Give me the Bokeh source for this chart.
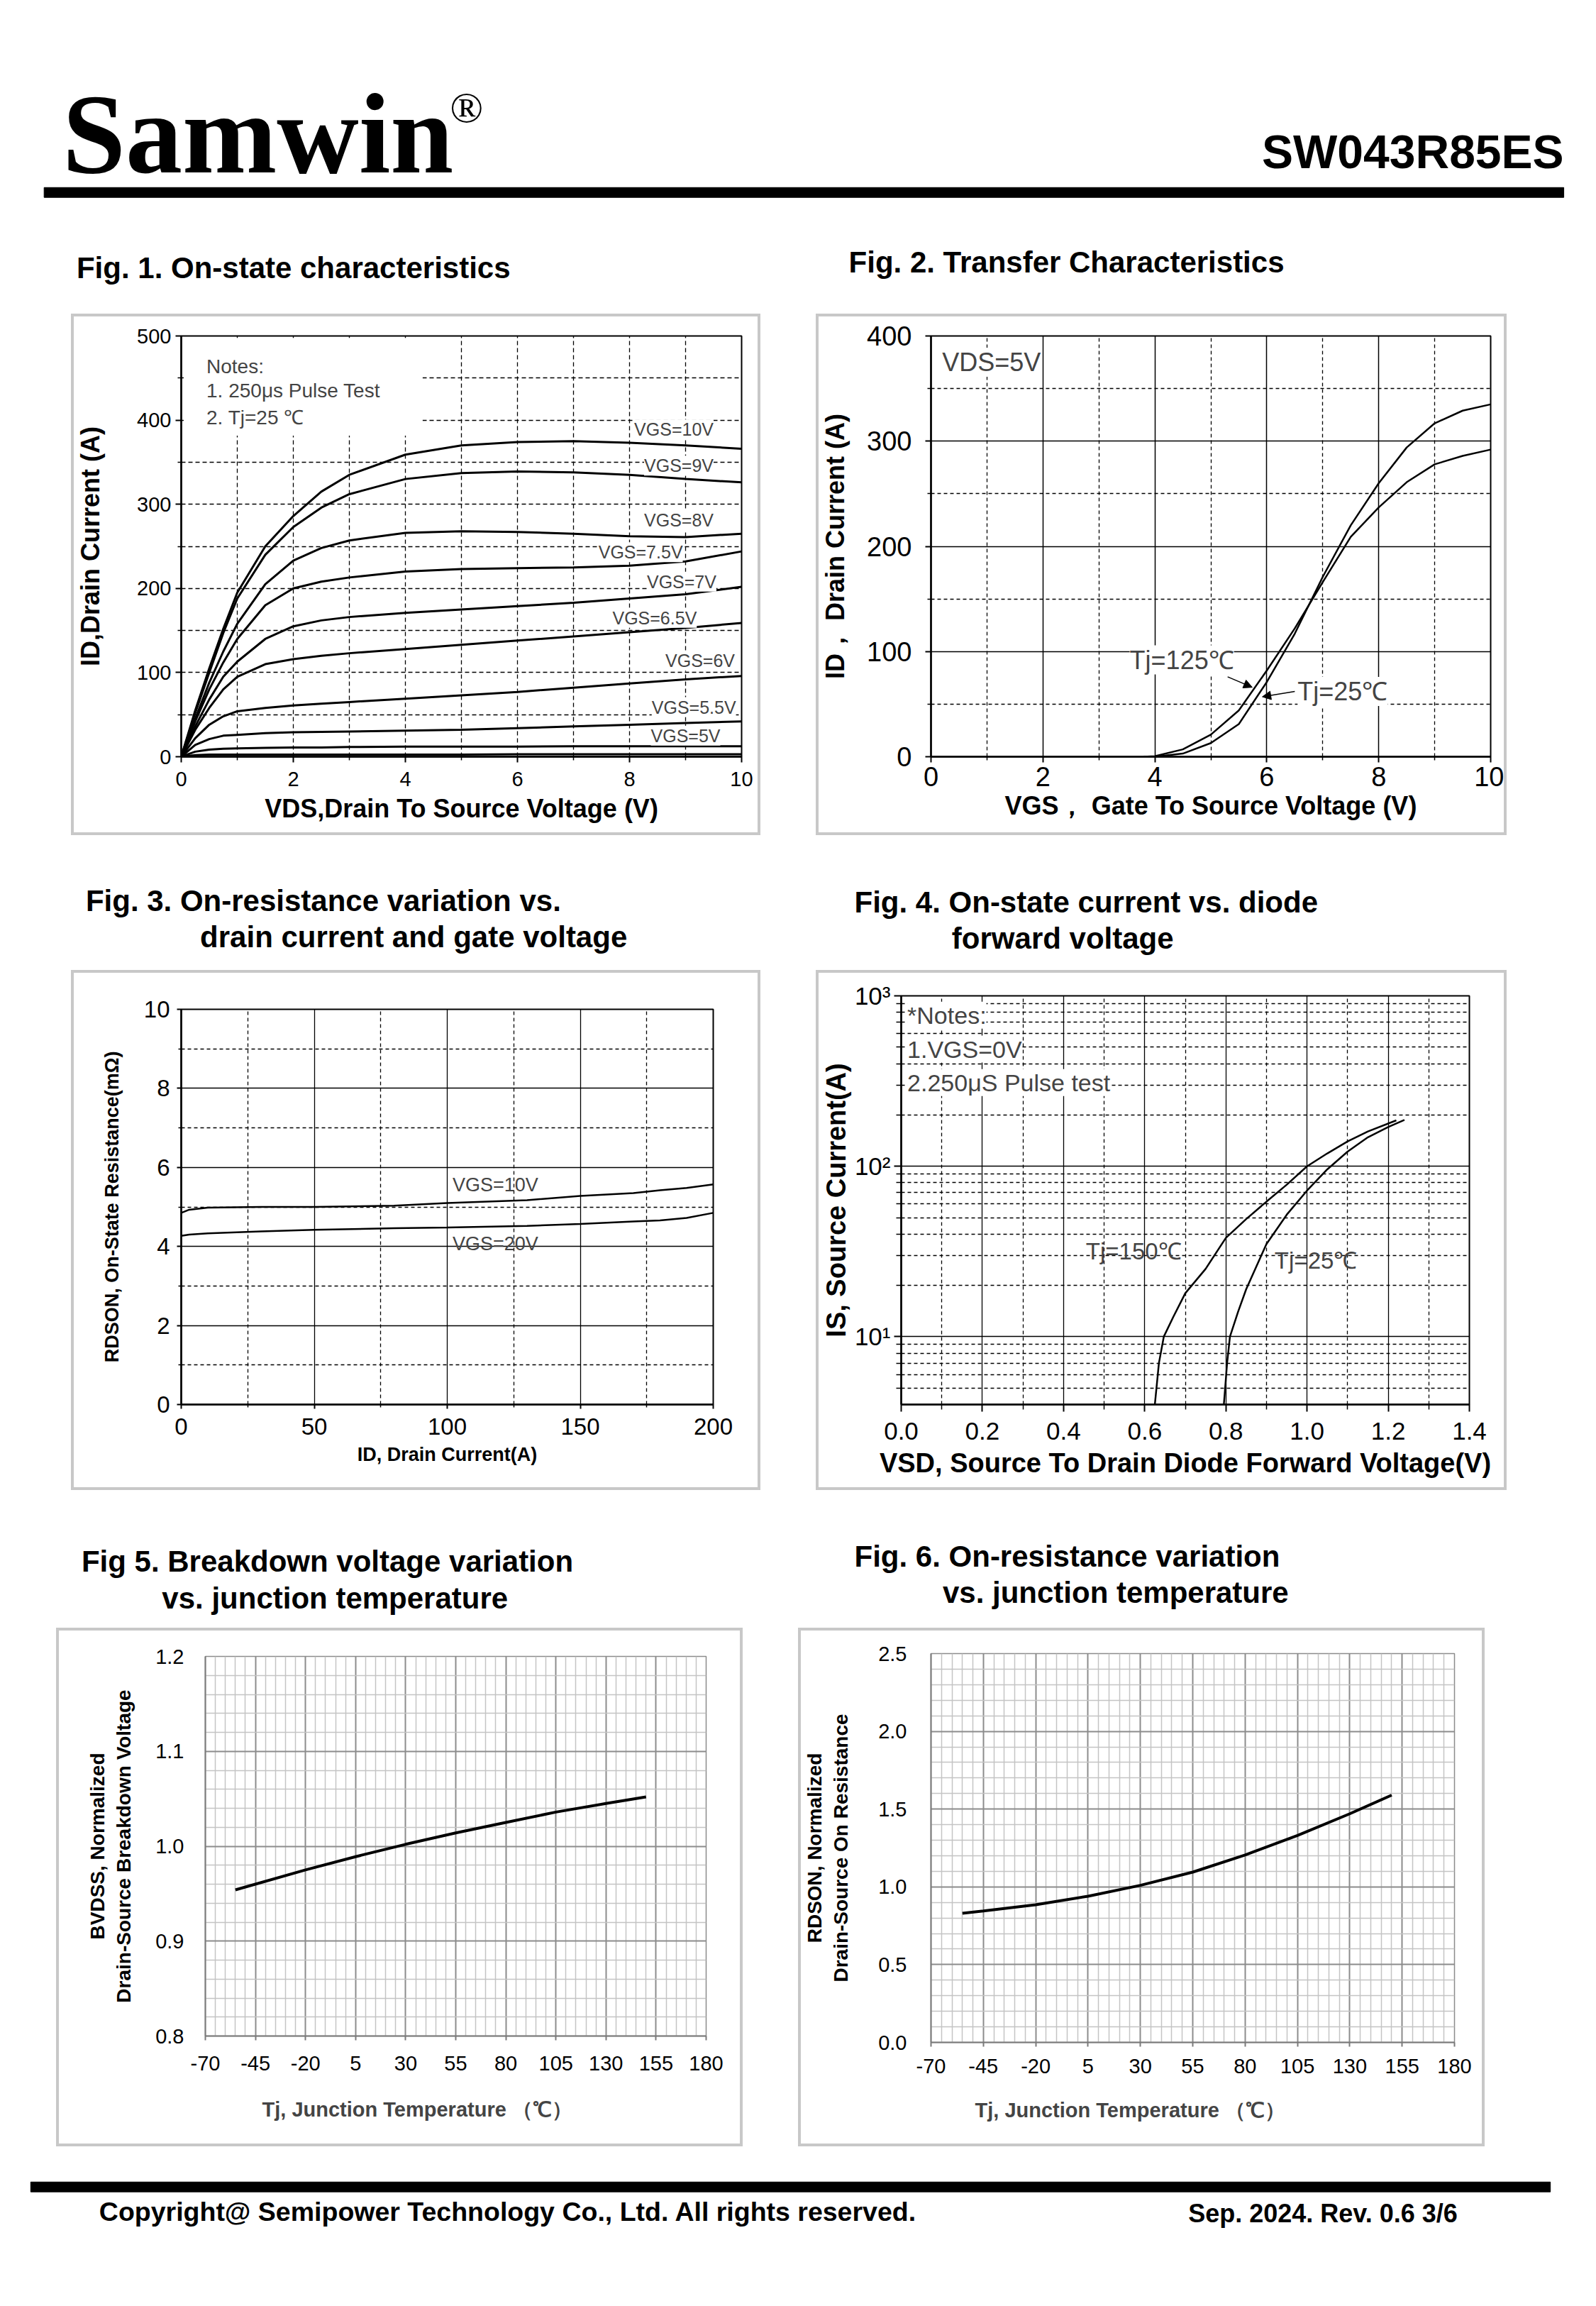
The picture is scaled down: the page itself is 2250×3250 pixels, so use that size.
from bokeh.plotting import figure
from bokeh.layouts import column, row
from bokeh.models import (Range1d, FixedTicker, NumeralTickFormatter, Label, Arrow,
                          NormalHead, Spacer, Title)
from bokeh.core.properties import value
from bokeh.embed import file_html
from bokeh.resources import INLINE

# ---------------- data ----------------
# Fig 1 output characteristics
vds = [0, 0.25, 0.5, 0.75, 1, 1.5, 2, 2.5, 3, 4, 5, 6, 7, 8, 9, 10]
id_10 = [0, 55, 105, 152, 195, 250, 286, 315, 335, 359, 370, 374, 375, 373, 370, 366]
id_9 = [0, 52, 100, 147, 188, 240, 273, 296, 312, 330, 337, 339, 338, 335, 330, 326]
id_8 = [0, 45, 88, 125, 158, 205, 233, 248, 257, 266, 268, 267, 265, 262, 261, 265]
id_75 = [0, 42, 80, 112, 140, 180, 200, 208, 213, 220, 223, 224, 225, 227, 232, 244]
id_7 = [0, 36, 68, 95, 113, 140, 155, 162, 166, 171, 175, 179, 183, 188, 193, 202]
id_65 = [0, 32, 58, 80, 95, 110, 116, 120, 123, 128, 133, 138, 143, 148, 153, 159]
id_6 = [0, 22, 38, 48, 54, 58, 61, 63, 65, 69, 73, 77, 82, 87, 92, 96]
id_55 = [0, 14, 21, 25, 26, 28, 29, 29.5, 30, 31, 32, 34, 36, 38, 40, 42]
id_5 = [0, 6, 8.5, 9.5, 10, 10.5, 11, 11, 11.5, 12, 12, 12, 12.5, 12.5, 12.5, 12.5]
id_45 = [0, 2, 2.5, 2.5, 2.5, 2.5, 2.5, 2.5, 2.5, 2.5, 2.5, 3, 3, 3, 3, 3]
fig1_curves = [id_10, id_9, id_8, id_75, id_7, id_65, id_6, id_55, id_5, id_45]
fig1_labels = ["VGS=10V", "VGS=9V", "VGS=8V", "VGS=7.5V", "VGS=7V", "VGS=6.5V",
               "VGS=6V", "VGS=5.5V", "VGS=5V"]
fig1_label_x = [9.5, 9.5, 9.5, 8.95, 9.55, 9.2, 9.88, 9.9, 9.62]
fig1_label_y = [389, 346, 281, 243, 208, 165, 114, 59, 25]
fig1_notes = ["Notes:", " 1. 250μs  Pulse Test", " 2. Tj=25 ℃"]
fig1_notes_y = [464, 435, 403]

# Fig 2 transfer characteristics
vgs = [3.8, 4.0, 4.5, 5.0, 5.5, 6.0, 6.5, 7.0, 7.5, 8.0, 8.5, 9.0, 9.5, 10.0]
id_t125 = [0, 0.5, 7, 21, 44, 82, 122, 166, 209, 237, 261, 278, 286, 292]
id_t25 = [0, 0, 3, 13, 31, 71, 117, 171, 220, 260, 294, 317, 329, 335]

# Fig 3 on-resistance vs drain current
id3 = [0, 3, 10, 30, 50, 80, 100, 130, 150, 170, 180, 190, 200]
r_10v = [4.85, 4.93, 4.98, 5.0, 5.0, 5.03, 5.1, 5.17, 5.28, 5.35, 5.42, 5.48, 5.57]
r_20v = [4.27, 4.3, 4.33, 4.38, 4.42, 4.46, 4.48, 4.52, 4.57, 4.63, 4.66, 4.72, 4.85]

# Fig 4 diode forward characteristics
vsd_150 = [0.625, 0.635, 0.647, 0.67, 0.70, 0.75, 0.80, 0.85, 0.90, 0.95, 1.00, 1.05, 1.10, 1.15, 1.22]
is_150 = [4, 7, 10, 13, 18, 25, 38, 49, 62, 78, 100, 119, 140, 160, 186]
vsd_25 = [0.795, 0.803, 0.81, 0.83, 0.85, 0.90, 0.95, 1.00, 1.05, 1.10, 1.15, 1.20, 1.24]
is_25 = [4, 7, 10, 14, 19, 35, 52, 72, 96, 122, 148, 170, 187]

# Fig 5 breakdown voltage vs Tj
tj5 = [-55, -20, 5, 30, 55, 80, 105, 130, 150]
bv_norm = [0.954, 0.975, 0.989, 1.002, 1.014, 1.025, 1.036, 1.045, 1.052]

# Fig 6 on-resistance vs Tj
tj6 = [-55, -45, -20, 5, 30, 55, 80, 105, 130, 150]
rds_norm = [0.83, 0.845, 0.885, 0.94, 1.01, 1.095, 1.205, 1.33, 1.47, 1.59]

# ---------------- helpers ----------------
SANS = "Liberation Sans"
BORDER = 4
BOX = "%dpx solid #c8c8c8" % BORDER
PAGE_W = 2234
S = 0.995


def s(v):
    return int(round(v * S))


def page_fig(y0, y1):
    p = figure(width=s(PAGE_W), height=s(y1) - s(y0), x_range=Range1d(0, PAGE_W),
               y_range=Range1d(y1, y0), output_backend="svg", toolbar_location=None, min_border=0)
    p.axis.visible = False
    p.grid.visible = False
    p.outline_line_color = None
    return p


def ptext(p, x, y, t, size, style="bold", font=SANS, align="left", baseline="middle"):
    p.text(x=[x], y=[y], text=[t], text_font=value(font), text_font_size=size,
           text_font_style=style, text_align=align, text_baseline=baseline, text_color="black")


def chart(box, frame, xr, yr, ytype="linear"):
    bx0, bx1, by0, by1 = box
    fx0, fx1, fy0, fy1 = frame
    p = figure(width=s(bx1) - s(bx0), height=s(by1) - s(by0),
               x_range=Range1d(*xr), y_range=Range1d(*yr), y_axis_type=ytype,
               output_backend="svg", toolbar_location=None,
               min_border_left=s(fx0) - s(bx0) - BORDER,
               min_border_right=s(bx1) - s(fx1) + BORDER,
               min_border_top=s(fy0) - s(by0) - BORDER,
               min_border_bottom=s(by1) - s(fy1) + BORDER,
               styles={"border": BOX})
    p.background_fill_color = "white"
    p.border_fill_color = "white"
    return p


def style_axes(p, tick_font, lab_font, lab_style="bold", axis_w=2.5, color="black",
               xs=(8, 10, 10), ys=(8, 6, 40), tick_out=8, minor_out=5):
    for ax in (p.xaxis[0], p.yaxis[0]):
        ax.axis_line_color = color
        ax.axis_line_width = axis_w
        ax.major_tick_line_color = color
        ax.minor_tick_line_color = color
        ax.major_tick_line_width = 2
        ax.minor_tick_line_width = 1.5
        ax.major_tick_in = 0
        ax.minor_tick_in = 0
        ax.major_tick_out = tick_out
        ax.minor_tick_out = minor_out
        ax.major_label_text_font = SANS
        ax.major_label_text_font_size = tick_font
        ax.major_label_text_color = "black"
        ax.axis_label_text_font = SANS
        ax.axis_label_text_font_size = lab_font
        ax.axis_label_text_font_style = lab_style
        ax.axis_label_text_color = "black"
    p.xaxis[0].major_label_standoff = xs[1]
    p.xaxis[0].axis_label_standoff = xs[2]
    p.yaxis[0].major_label_standoff = ys[1]
    p.yaxis[0].axis_label_standoff = ys[2]
    p.yaxis[0].major_label_orientation = "horizontal"


def grids(p, major_color, major_dash, minor_color, minor_dash, mw=1.3, nw=1.3):
    for g in (p.xgrid[0], p.ygrid[0]):
        g.grid_line_color = major_color
        g.grid_line_dash = major_dash
        g.grid_line_width = mw
        g.minor_grid_line_color = minor_color
        g.minor_grid_line_dash = minor_dash
        g.minor_grid_line_width = nw


# page geometry (reference pixels)
Y = [0, 444, 1183, 1374, 2111, 2306, 3040, 3240]
BOX1, FRM1 = (100, 1077, 444, 1183), (254, 1050, 475, 1071)
BOX2, FRM2 = (1156, 2135, 444, 1183), (1317, 2112, 475, 1071)
BOX3, FRM3 = (100, 1077, 1374, 2111), (256, 1010, 1429, 1989)
BOX4, FRM4 = (1156, 2135, 1374, 2111), (1275, 2081, 1410, 1989)
BOX5, FRM5 = (79, 1052, 2306, 3040), (290, 1000, 2346, 2883)
BOX6, FRM6 = (1131, 2104, 2306, 3040), (1319, 2060, 2342, 2892)

# ---------------- header + titles of fig1/fig2 ----------------
h1 = page_fig(Y[0], Y[1])
ptext(h1, 88, 100, "Samwin", "160px", style="bold", font="Liberation Serif", baseline="top")
ptext(h1, 637, 117, "®", "62px", style="normal", font="Liberation Serif", baseline="top")
ptext(h1, 2215, 177, "SW043R85ES", "66px", align="right", baseline="top")
h1.quad(left=[62], right=[2215], top=[265], bottom=[279], color="black")
ptext(h1, 108, 379, "Fig. 1. On-state characteristics", "42px")
ptext(h1, 1202, 371, "Fig. 2. Transfer Characteristics", "42px")

# ---------------- Fig 1 ----------------
p1 = chart(BOX1, FRM1, (0, 10), (0, 500))
style_axes(p1, "29px", "36px", xs=(8, 13, 8), ys=(8, 6, 42))
p1.xaxis.ticker = FixedTicker(ticks=[0, 2, 4, 6, 8, 10], minor_ticks=[1, 3, 5, 7, 9])
p1.yaxis.ticker = FixedTicker(ticks=[0, 100, 200, 300, 400, 500], minor_ticks=[50, 150, 250, 350, 450])
grids(p1, "black", "6 4", "black", "6 4")
p1.xaxis.axis_label = "VDS,Drain To Source Voltage (V)"
p1.yaxis.axis_label = "ID,Drain Current (A)"
p1.outline_line_color = "black"
p1.outline_line_width = 2
p1.quad(left=[0.05], right=[4.3], bottom=[382], top=[497], color="white")
for c in fig1_curves:
    p1.line(vds, c, line_color="black", line_width=3)
for t, x, y in zip(fig1_labels, fig1_label_x, fig1_label_y):
    p1.add_layout(Label(x=x, y=y, text=t, text_align="right", text_baseline="middle",
                        text_font=SANS, text_font_size="25px", background_fill_color="white"))
for t, y in zip(fig1_notes, fig1_notes_y):
    p1.add_layout(Label(x=0.45, y=y, text=t, text_align="left", text_baseline="middle",
                        text_font=SANS, text_font_size="28px"))

# ---------------- Fig 2 ----------------
p2 = chart(BOX2, FRM2, (0, 10), (0, 400))
style_axes(p2, "38px", "36px", xs=(8, 6, 4), ys=(8, 19, 21))
p2.xaxis.ticker = FixedTicker(ticks=[0, 2, 4, 6, 8, 10], minor_ticks=[1, 3, 5, 7, 9])
p2.yaxis.ticker = FixedTicker(ticks=[0, 100, 200, 300, 400], minor_ticks=[50, 150, 250, 350])
grids(p2, "black", "solid", "black", "5 4", mw=1.5)
p2.xaxis.axis_label = "VGS， Gate To Source Voltage (V)"
p2.yaxis.axis_label = "ID， Drain Current (A)"
p2.outline_line_color = "black"
p2.outline_line_width = 2
p2.line(vgs, id_t125, line_color="black", line_width=2.5)
p2.line(vgs, id_t25, line_color="black", line_width=2.5)
p2.add_layout(Label(x=0.2, y=375, text="VDS=5V", text_align="left", text_baseline="middle",
                    text_font=SANS, text_font_size="36px", background_fill_color="white"))
p2.add_layout(Label(x=3.55, y=92, text="Tj=125℃", text_align="left", text_baseline="middle",
                    text_font=SANS, text_font_size="36px", background_fill_color="white"))
p2.add_layout(Label(x=6.55, y=62, text="Tj=25℃", text_align="left", text_baseline="middle",
                    text_font=SANS, text_font_size="36px", background_fill_color="white"))
p2.add_layout(Arrow(x_start=5.3, y_start=76, x_end=5.74, y_end=66, line_width=1.5,
                    end=NormalHead(size=12, fill_color="black", line_color="black")))
p2.add_layout(Arrow(x_start=6.5, y_start=62, x_end=5.92, y_end=57, line_width=1.5,
                    end=NormalHead(size=12, fill_color="black", line_color="black")))

# ---------------- titles of fig3/fig4 ----------------
h2 = page_fig(Y[2], Y[3])
ptext(h2, 121, 1275, "Fig. 3. On-resistance variation vs.", "42px")
ptext(h2, 283, 1327, "drain current and gate voltage", "42px")
ptext(h2, 1210, 1277, "Fig. 4. On-state current vs. diode", "42px")
ptext(h2, 1348, 1329, "forward voltage", "42px")

# ---------------- Fig 3 ----------------
p3 = chart(BOX3, FRM3, (0, 200), (0, 10))
style_axes(p3, "33px", "27px", xs=(6, 13, 10), ys=(6, 10, 27), tick_out=6, minor_out=4)
p3.xaxis.ticker = FixedTicker(ticks=[0, 50, 100, 150, 200], minor_ticks=[25, 75, 125, 175])
p3.yaxis.ticker = FixedTicker(ticks=[0, 2, 4, 6, 8, 10], minor_ticks=[1, 3, 5, 7, 9])
grids(p3, "black", "solid", "black", "5 4", mw=1.3)
p3.xaxis.axis_label = "ID, Drain Current(A)"
p3.yaxis.axis_label = "RDSON, On-State Resistance(mΩ)"
p3.outline_line_color = "black"
p3.outline_line_width = 2
p3.line(id3, r_10v, line_color="black", line_width=2.5)
p3.line(id3, r_20v, line_color="black", line_width=2.5)
p3.add_layout(Label(x=102, y=5.55, text="VGS=10V", text_align="left", text_baseline="middle",
                    text_font=SANS, text_font_size="27px"))
p3.add_layout(Label(x=102, y=4.06, text="VGS=20V", text_align="left", text_baseline="middle",
                    text_font=SANS, text_font_size="27px"))

# ---------------- Fig 4 ----------------
p4 = chart(BOX4, FRM4, (0, 1.4), (4, 1000), ytype="log")
style_axes(p4, "35px", "38px", xs=(10, 15, 9), ys=(8, 5, 2), tick_out=10, minor_out=7)
p4.xaxis.ticker = FixedTicker(ticks=[0.0, 0.2, 0.4, 0.6, 0.8, 1.0, 1.2, 1.4],
                              minor_ticks=[0.1, 0.3, 0.5, 0.7, 0.9, 1.1, 1.3])
p4.xaxis.formatter = NumeralTickFormatter(format="0.0")
p4.yaxis.ticker = FixedTicker(ticks=[10, 100, 1000],
                              minor_ticks=[5, 6, 7, 8, 9, 20, 30, 40, 50, 60, 70, 80, 90,
                                           200, 300, 400, 500, 600, 700, 800, 900])
p4.yaxis.major_label_overrides = {10: "10¹", 100: "10²", 1000: "10³"}
grids(p4, "black", "solid", "black", "5 4", mw=1.3)
p4.xaxis.axis_label = "VSD, Source To Drain Diode Forward Voltage(V)"
p4.yaxis.axis_label = "IS, Source Current(A)"
p4.outline_line_color = "black"
p4.outline_line_width = 2
p4.line(vsd_150, is_150, line_color="black", line_width=2.5)
p4.line(vsd_25, is_25, line_color="black", line_width=2.5)
for t, y in zip(["*Notes:", "1.VGS=0V", "2.250μS Pulse test"], [770, 487, 310]):
    p4.add_layout(Label(x=0.015, y=y, text=t, text_align="left", text_baseline="middle",
                        text_font=SANS, text_font_size="34px", background_fill_color="white"))
p4.add_layout(Label(x=0.455, y=31.7, text="Tj=150℃", text_align="left", text_baseline="middle",
                    text_font=SANS, text_font_size="33px"))
p4.add_layout(Label(x=0.92, y=27.9, text="Tj=25℃", text_align="left", text_baseline="middle",
                    text_font=SANS, text_font_size="33px"))

# ---------------- titles of fig5/fig6 ----------------
h3 = page_fig(Y[4], Y[5])
ptext(h3, 115, 2212, "Fig 5. Breakdown voltage variation", "42px")
ptext(h3, 229, 2264, "vs. junction temperature", "42px")
ptext(h3, 1210, 2204, "Fig. 6. On-resistance variation", "42px")
ptext(h3, 1335, 2256, "vs. junction temperature", "42px")

tj_major = [-70, -45, -20, 5, 30, 55, 80, 105, 130, 155, 180]
tj_minor = [t for t in range(-70, 181, 5) if t not in tj_major]
TJ_LABEL = "Tj, Junction Temperature （℃）"

# ---------------- Fig 5 ----------------
p5 = chart(BOX5, FRM5, (-70, 180), (0.8, 1.2))
style_axes(p5, "29px", "28px", axis_w=2, color="#7a7a7a", xs=(6, 22, 36), ys=(0, 30, 26),
           tick_out=6, minor_out=0)
p5.yaxis[0].major_tick_out = 0
p5.xaxis.ticker = FixedTicker(ticks=tj_major, minor_ticks=tj_minor)
p5.xaxis.formatter = NumeralTickFormatter(format="0")
p5.yaxis.ticker = FixedTicker(ticks=[0.8, 0.9, 1.0, 1.1, 1.2],
                              minor_ticks=[0.82, 0.84, 0.86, 0.88, 0.92, 0.94, 0.96, 0.98,
                                           1.02, 1.04, 1.06, 1.08, 1.12, 1.14, 1.16, 1.18])
p5.yaxis.formatter = NumeralTickFormatter(format="0.0")
grids(p5, "#8c8c8c", "solid", "#c4c4c4", "solid", mw=2, nw=1.5)
p5.add_layout(Title(text=TJ_LABEL, align="left", offset=s(371) - s(290), standoff=69,
                    text_font=SANS, text_font_size="29px", text_font_style="bold"), "below")
p5.yaxis.axis_label = "BVDSS, Normalized\nDrain-Source Breakdown Voltage"
p5.outline_line_color = "#8c8c8c"
p5.outline_line_width = 1.5
p5.line(tj5, bv_norm, line_color="black", line_width=4)

# ---------------- Fig 6 ----------------
p6 = chart(BOX6, FRM6, (-70, 180), (0, 2.5))
style_axes(p6, "29px", "28px", axis_w=2, color="#7a7a7a", xs=(6, 17, 32), ys=(0, 34, 34),
           tick_out=6, minor_out=0)
p6.yaxis[0].major_tick_out = 0
p6.xaxis.ticker = FixedTicker(ticks=tj_major, minor_ticks=tj_minor)
p6.xaxis.formatter = NumeralTickFormatter(format="0")
p6.yaxis.ticker = FixedTicker(ticks=[0.0, 0.5, 1.0, 1.5, 2.0, 2.5],
                              minor_ticks=[0.1, 0.2, 0.3, 0.4, 0.6, 0.7, 0.8, 0.9, 1.1, 1.2, 1.3,
                                           1.4, 1.6, 1.7, 1.8, 1.9, 2.1, 2.2, 2.3, 2.4])
p6.yaxis.formatter = NumeralTickFormatter(format="0.0")
grids(p6, "#8c8c8c", "solid", "#c4c4c4", "solid", mw=2, nw=1.5)
p6.add_layout(Title(text=TJ_LABEL, align="left", offset=s(1381) - s(1319), standoff=62,
                    text_font=SANS, text_font_size="29px", text_font_style="bold"), "below")
p6.yaxis.axis_label = "RDSON, Normalized\nDrain-Source On Resistance"
p6.outline_line_color = "#8c8c8c"
p6.outline_line_width = 1.5
p6.line(tj6, rds_norm, line_color="black", line_width=4)

# ---------------- footer ----------------
f = page_fig(Y[6], Y[7])
f.quad(left=[43], right=[2196], top=[3090], bottom=[3104], color="black")
ptext(f, 140, 3132, "Copyright@ Semipower Technology Co., Ltd. All rights reserved.", "37.5px")
ptext(f, 1683, 3134, "Sep. 2024. Rev. 0.6   3/6", "36px")


def chart_row(boxes, plots):
    items = []
    prev = 0
    for b, p in zip(boxes, plots):
        items.append(Spacer(width=s(b[0]) - s(prev)))
        items.append(column(p))
        prev = b[1]
    return row(*items)


layout = column(
    h1,
    chart_row([BOX1, BOX2], [p1, p2]),
    h2,
    chart_row([BOX3, BOX4], [p3, p4]),
    h3,
    chart_row([BOX5, BOX6], [p5, p6]),
    f,
)

open("out.html", "w").write(file_html(layout, INLINE))
